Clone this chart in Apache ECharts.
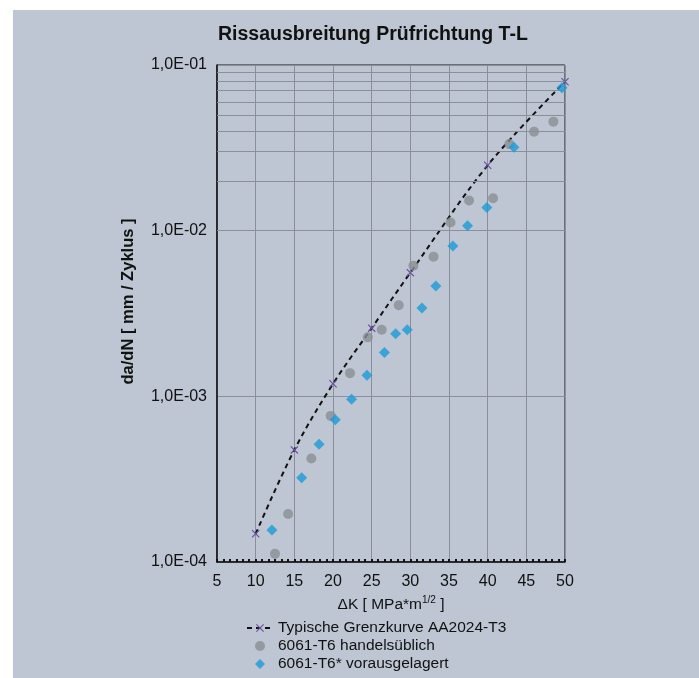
<!DOCTYPE html>
<html>
<head>
<meta charset="utf-8">
<script src="https://cdn.jsdelivr.net/npm/echarts@6/dist/echarts.min.js"></script>
<style>
html,body{margin:0;padding:0;background:#fff;}
#bg{position:absolute;left:13px;top:10px;width:686px;height:668px;background:#bdc6d2;}
#chart{position:absolute;left:0;top:0;width:699px;height:678px;}
</style>
</head>
<body>
<div id="bg"></div>
<div id="chart"></div>
<script>
// Typische Grenzkurve AA2024-T3
const curveK = [10, 15, 20, 25, 30, 40, 50];
const curveV = [1.48e-4, 4.75e-4, 1.19e-3, 2.58e-3, 5.58e-3, 2.48e-2, 7.93e-2];
// 6061-T6 handelsüblich
const grayK = [12.5, 14.2, 17.2, 19.7, 22.2, 24.5, 26.3, 28.5, 30.4, 33.0, 35.2, 37.6, 40.7, 42.8, 46.0, 48.5];
const grayV = [1.12e-4, 1.95e-4, 4.21e-4, 7.62e-4, 1.38e-3, 2.27e-3, 2.52e-3, 3.55e-3, 6.15e-3, 6.97e-3, 1.12e-2, 1.52e-2, 1.57e-2, 3.33e-2, 3.96e-2, 4.55e-2];
// 6061-T6* vorausgelagert
const blueK = [12.1, 15.95, 18.2, 20.3, 22.4, 24.4, 26.65, 28.1, 29.6, 31.5, 33.3, 35.5, 37.4, 39.9, 43.4, 49.6];
const blueV = [1.56e-4, 3.23e-4, 5.14e-4, 7.21e-4, 9.6e-4, 1.34e-3, 1.84e-3, 2.39e-3, 2.52e-3, 3.41e-3, 4.64e-3, 8.09e-3, 1.07e-2, 1.38e-2, 3.19e-2, 7.29e-2];
// minor log grid values
const minorGrid = [2e-4,3e-4,4e-4,5e-4,6e-4,7e-4,8e-4,9e-4,2e-3,3e-3,4e-3,5e-3,6e-3,7e-3,8e-3,9e-3,2e-2,3e-2,4e-2,5e-2,6e-2,7e-2,8e-2,9e-2];
const seriesNames = ['Typische Grenzkurve AA2024-T3', '6061-T6 handelsüblich', '6061-T6* vorausgelagert'];

const zip = (a, b) => a.map((x, i) => [x, b[i]]);
const FONT = '"Liberation Sans", Arial, Helvetica, sans-serif';
const xShape = 'path://M0,1 L1,0 L5,4 L9,0 L10,1 L6,5 L10,9 L9,10 L5,6 L1,10 L0,9 L4,5 Z';
const diamondShape = 'path://M5,0 L10,5 L5,10 L0,5 Z';

const chart = echarts.init(document.getElementById('chart'), null, {renderer: 'canvas'});
chart.setOption({
  backgroundColor: 'transparent',
  animation: false,
  textStyle: {fontFamily: FONT, color: '#111'},
  title: {
    text: 'Rissausbreitung Prüfrichtung T-L',
    left: 213, top: 20,
    textStyle: {fontFamily: FONT, fontSize: 19.5, fontWeight: 'bold', color: '#111'}
  },
  legend: {
    orient: 'vertical',
    left: 241, top: 615,
    itemWidth: 26, itemHeight: 10, itemGap: 2,
    symbolKeepAspect: true,
    data: seriesNames,
    textStyle: {fontFamily: FONT, fontSize: 15.5, color: '#111'}
  },
  grid: {
    left: 217, right: 134, top: 65, bottom: 116,
    show: true, borderColor: '#1a1a1a', borderWidth: 1, backgroundColor: 'transparent'
  },
  xAxis: {
    type: 'value', min: 5, max: 50, interval: 5,
    name: '{a|ΔK [ MPa*m}{s|1/2}{a| ]}',
    nameLocation: 'middle', nameGap: 33,
    nameTextStyle: {rich: {
      a: {fontFamily: FONT, fontSize: 15.5, color: '#111', verticalAlign: 'bottom', lineHeight: 18},
      s: {fontFamily: FONT, fontSize: 10, color: '#111', verticalAlign: 'top', lineHeight: 18, padding: [0,0,8,0]}
    }},
    axisLine: {show: true, onZero: false, lineStyle: {color: '#111', width: 1.5}},
    axisTick: {show: true, inside: true, length: 3, lineStyle: {color: '#111', width: 2}},
    minorTick: {show: true, splitNumber: 6, length: 3, lineStyle: {color: '#111', width: 2}},
    axisLabel: {fontFamily: FONT, fontSize: 16, color: '#111', margin: 12},
    splitLine: {show: true, lineStyle: {color: '#8a9099', width: 1}}
  },
  yAxis: {
    type: 'log', logBase: 10, min: 1e-4, max: 1e-1,
    name: 'da/dN [ mm / Zyklus ]',
    nameLocation: 'middle', nameGap: 80,
    nameTextStyle: {fontFamily: FONT, fontSize: 16.5, fontWeight: 'bold', color: '#111', padding: [0, 0, 0, 24]},
    axisLine: {show: true, lineStyle: {color: '#111', width: 1.5}},
    axisTick: {show: false},
    axisLabel: {
      fontFamily: FONT, fontSize: 16, color: '#111', margin: 10,
      formatter: v => {
        const e = Math.round(Math.log10(v));
        const s = e < 0 ? '-' : '+';
        const n = Math.abs(e);
        return '1,0E' + s + (n < 10 ? '0' : '') + n;
      }
    },
    splitLine: {show: true, lineStyle: {color: '#8a9099', width: 1}}
  },
  series: [
    {
      name: 'minor', type: 'line', data: [], silent: true,
      markLine: {
        silent: true, symbol: 'none', animation: false,
        label: {show: false},
        lineStyle: {color: '#8a9099', width: 1, type: 'solid'},
        emphasis: {disabled: true},
        data: minorGrid.map(v => ({yAxis: v}))
      }
    },
    {
      name: seriesNames[0], type: 'line', smooth: 0.35,
      data: zip(curveK, curveV),
      symbol: xShape, symbolSize: 8,
      itemStyle: {color: '#6a4fa0'},
      lineStyle: {color: '#111', width: 2, type: [5, 4]},
      z: 3
    },
    {
      name: seriesNames[1], type: 'scatter',
      data: zip(grayK, grayV),
      symbol: 'circle', symbolSize: 10,
      itemStyle: {color: '#8b8e93'},
      z: 4
    },
    {
      name: seriesNames[2], type: 'scatter',
      data: zip(blueK, blueV),
      symbol: diamondShape, symbolSize: 11, symbolKeepAspect: true,
      itemStyle: {color: '#1c9ad8'},
      z: 5
    }
  ]
});
</script>
</body>
</html>
